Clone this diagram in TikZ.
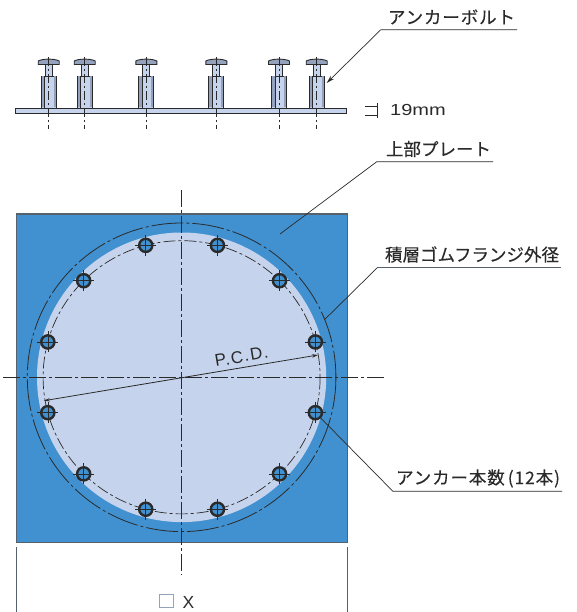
\documentclass[tikz,border=0pt]{standalone}
\usepackage{fontspec}
\setmainfont[FakeBold=0.2]{Noto Sans CJK JP}
\newfontfamily\latinfont{Liberation Sans}
\newfontfamily\widefont[FakeStretch=1.25]{Liberation Sans}
\newfontfamily\spacedfont[LetterSpace=7]{Liberation Sans}
\usepackage{tikz}
\usetikzlibrary{arrows.meta}
\definecolor{plateblue}{HTML}{4191D0}
\definecolor{lightblue}{HTML}{C5D3EC}
\definecolor{inkgray}{HTML}{2A2A2A}
\definecolor{sidegray}{HTML}{95A2BE}
\definecolor{edgegray}{HTML}{55626E}
\tikzset{
	centerline/.style={inkgray,line width=0.8pt,dash pattern=on 17pt off 3pt on 3pt off 3pt},
	smallcenter/.style={inkgray,line width=0.7pt,dash pattern=on 9pt off 3pt on 2pt off 3pt},
	leader/.style={inkgray,line width=0.7pt},
	callout/.style={font=\fontsize{17.5}{17.5}\selectfont,text=inkgray,inner ysep=0pt,inner xsep=2pt,minimum height=25pt,text width=#1-4pt,minimum width=#1,align=right},
	hole/.style={circle,draw=inkgray,fill=plateblue,line width=2.4pt,minimum size=13.2pt,inner sep=0pt},
	sleeve/.style={rectangle,draw=inkgray,fill=lightblue,line width=0.9pt,minimum width=15pt,minimum height=32pt,inner sep=0pt}
}
\begin{document}
\begin{tikzpicture}[x=1pt,y=-1pt]
	\useasboundingbox (0,0) rectangle (577,612);
	% side view
	\foreach \b/\n in {48.7/1,84.7/2,146.3/3,216.3/4,279/5,316.7/6} {
		\node[sleeve] (sleeve\n) at (\b,92) {};
		\fill[sidegray] (\b-7,76.5) rectangle (\b-4,107.5);
		\fill[sidegray] (\b+5,76.5) rectangle (\b+7,107.5);
		\draw[inkgray,line width=0.5pt] (\b-4,76) -- (\b-4,108);
		\draw[inkgray,line width=0.9pt,fill=lightblue] (\b-3.5,76) rectangle (\b+3.5,64.5);
		\draw[inkgray,line width=0.9pt,fill=sidegray] (\b-10.5,64.5) -- (\b-10.5,61) .. controls (\b-6,58.5) and (\b+6,58.5) .. (\b+10.5,61) -- (\b+10.5,64.5) -- cycle;
	}
	\draw[inkgray,line width=0.9pt,fill=lightblue] (15.5,108.5) rectangle (346,113.5);
	\foreach \b in {48.7,84.7,146.3,216.3,279,316.7}
		\draw[smallcenter] (\b,57) -- (\b,129);
	\draw[inkgray,line width=0.9pt] (365,106) -- (377.5,106);
	\draw[inkgray,line width=0.9pt] (365,115.5) -- (377.5,115.5);
	\draw[inkgray,line width=1pt] (377.5,103.5) -- (377.5,118);
	\node[anchor=west,inner sep=0pt,font=\widefont\fontsize{16}{16}\selectfont,text=inkgray] (thick) at (390,109.5) {19mm};
	% plate
	\fill[plateblue] (16,214) rectangle (347,542);
	\draw[edgegray,line width=1pt] (16,214) rectangle (347,542);
	\begin{scope}[shift={(181.6,377.3)}]
		\fill[lightblue] (0,0) ellipse (144.6 and 144.8);
		\draw[centerline,dash pattern=on 32pt off 3pt on 3pt off 3pt] (0,0) circle (154.3);
		\draw[inkgray,line width=0.7pt,dash pattern=on 12pt off 3pt on 3pt off 3pt] (0,0) ellipse (138.5 and 136.6);
		\coordinate (flange) at (-22:154.3 and 154.3);
		\foreach \a in {15,45,...,345} {
			\node[hole] (h\a) at (\a:138.5 and 136.6) {};
			\draw[inkgray,line width=0.6pt] (h\a.center) ++(-10.5,0) -- ++(21,0);
			\draw[inkgray,line width=0.6pt] (h\a.center) ++(0,-10.5) -- ++(0,21);
		}
	\end{scope}
	\draw[centerline] (3,377) -- (385,377);
	\draw[centerline] (181.6,190) -- (181.6,575);
	% PCD arrow
	\coordinate (pcdleft) at (44,400.7);
	\coordinate (pcdright) at (318,355);
	\draw[inkgray,line width=0.8pt,{Stealth[length=6pt,width=3.5pt]}-{Stealth[length=6pt,width=3.5pt]}] (pcdleft) -- (pcdright);
	\node[rotate=9.5,inner sep=0pt,font=\spacedfont\fontsize{17}{17}\selectfont,text=inkgray] (pcd) at (241.5,356.5) {P.C.D.};
	% callouts
	\node[callout=136pt] (boltlabel) at (449,17) {\addfontfeatures{LetterSpace=5}アンカーボルト};
	\node[callout=116pt] (platelabel) at (435,149) {上部プレート};
	\node[callout=183pt] (flangelabel) at (469.5,254.5) {積層ゴムフランジ外径};
	\node[callout=169pt] (countlabel) at (477.5,478.5) {\addfontfeatures{LetterSpace=5}アンカー本数\hspace{3pt}(12本)};
	\coordinate (boltend) at (326.7,83);
	\coordinate (plateend) at (280,234);
	\draw[leader,-{Stealth[length=8pt,width=4.5pt]}] (boltlabel.south east) -- (boltlabel.south west) -- (boltend);
	\draw[leader] (platelabel.south east) -- (platelabel.south west) -- (plateend);
	\draw[leader] (flangelabel.south west) -- (flange);
	\draw[edgegray,line width=1.4pt] (flangelabel.south east) -- (flangelabel.south west);
	\draw[leader] (countlabel.south east) -- (countlabel.south west) -- (h15.-45);
	% width
	\draw[edgegray,line width=1pt] (16,547) -- (16,612);
	\draw[edgegray,line width=1pt] (347,547) -- (347,612);
	\node[draw=sidegray,line width=0.9pt,minimum size=13.5pt,inner sep=0pt] (sizebox) at (166.5,601) {};
	\node[anchor=west,inner sep=0pt,font=\latinfont\fontsize{17.5}{17.5}\selectfont,text=inkgray] (sizex) at (182.5,602.5) {X};
\end{tikzpicture}
\end{document}
